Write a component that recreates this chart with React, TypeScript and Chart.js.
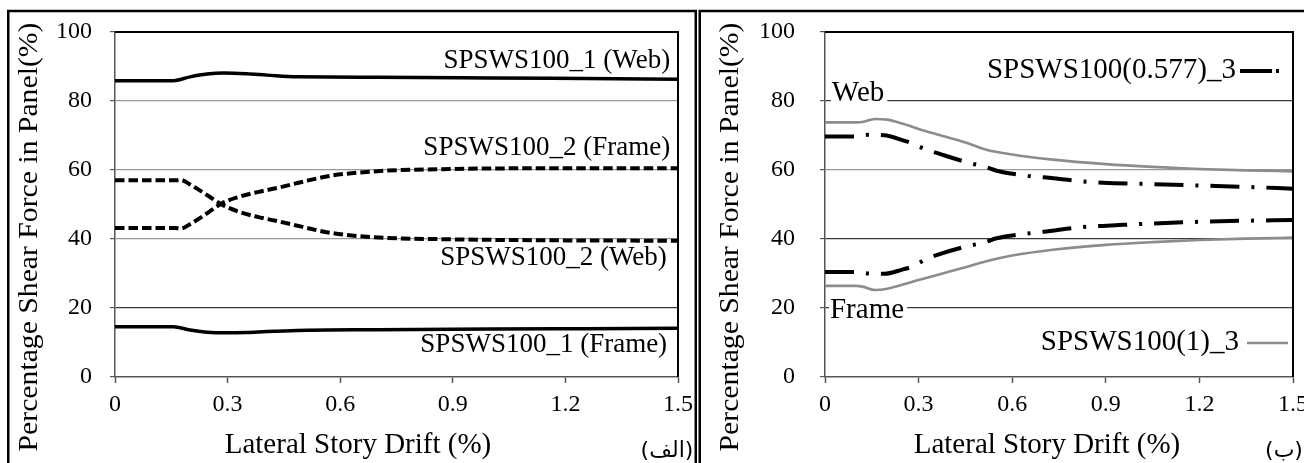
import React, { useEffect, useRef } from 'react';
import { Chart, registerables } from 'chart.js';

Chart.register(...registerables);

const SERIF = '"Liberation Serif", "Times New Roman", serif';
const ARABIC = '"DejaVu Sans", "Noto Sans", sans-serif';

// ---------- axes ----------
const xTickValues = [0, 0.3, 0.6, 0.9, 1.2, 1.5];
const xTickLabels = ['0', '0.3', '0.6', '0.9', '1.2', '1.5'];
const yTickValues = [0, 20, 40, 60, 80, 100];
const yTickLabels = ['0', '20', '40', '60', '80', '100'];

// ---------- panel (a) ----------
const driftA1 = [0, 0.155, 0.2, 0.245, 0.29, 0.35, 0.405, 0.485, 0.7, 1.0, 1.25, 1.5];
const webA1 = [85.9, 85.9, 87.0, 87.8, 88.1, 87.9, 87.5, 87.0, 86.9, 86.7, 86.5, 86.3];
const frameA1 = [14.6, 14.6, 13.6, 13.0, 12.8, 12.9, 13.2, 13.5, 13.7, 13.9, 14.0, 14.1];

const driftA2 = [0, 0.16, 0.175, 0.2, 0.25, 0.284, 0.33, 0.38, 0.44, 0.5, 0.573, 0.69, 0.9, 1.2, 1.5];
const frameA2 = [43.2, 43.2, 43.0, 44.3, 47.8, 50.3, 52.2, 53.6, 55.0, 56.6, 58.3, 59.6, 60.3, 60.5, 60.5];
const webA2 = [57.0, 57.0, 57.1, 55.8, 52.4, 50.0, 47.9, 46.4, 45.0, 43.5, 41.8, 40.5, 39.9, 39.6, 39.5];

// ---------- panel (b) ----------
const driftB1 = [0, 0.1, 0.12, 0.16, 0.2, 0.25, 0.3, 0.36, 0.45, 0.52, 0.6, 0.73, 0.9, 1.05, 1.2, 1.35, 1.5];
const webB1 = [73.8, 73.8, 73.9, 74.8, 74.6, 73.4, 71.9, 70.3, 68.0, 65.8, 64.5, 63.0, 61.7, 60.9, 60.3, 59.9, 59.6];
const frameB1 = [26.4, 26.4, 26.2, 25.2, 25.6, 26.8, 28.1, 29.6, 31.8, 33.6, 35.2, 36.9, 38.3, 39.1, 39.7, 40.1, 40.4];

const driftB2 = [0, 0.1, 0.14, 0.19, 0.25, 0.28, 0.32, 0.37, 0.46, 0.51, 0.55, 0.65, 0.7, 0.84, 0.89, 1.05, 1.2, 1.35, 1.5];
const webB2 = [69.7, 69.7, 70.2, 70.1, 68.6, 67.7, 66.1, 64.6, 62.1, 61.0, 59.8, 58.3, 57.9, 56.6, 56.3, 55.9, 55.5, 55.1, 54.6];
const frameB2 = [30.4, 30.4, 30.0, 29.9, 31.2, 32.0, 34.0, 35.7, 38.0, 39.0, 40.2, 41.6, 42.1, 43.6, 43.8, 44.5, 45.0, 45.3, 45.5];

const pts = (xs: number[], ys: number[]) => xs.map((x, i) => ({ x, y: ys[i] }));

type TextItem = {
  text: string;
  x: number; // data x
  y: number; // data y
  align: CanvasTextAlign;
  size: number;
  bg?: boolean;
};

type PanelSpec = {
  width: number;
  plotLeft: number;
  padRight: number;
  yTickPad: number;
  darkGrid: number[];
  datasets: any[];
  texts: TextItem[];
  yTitleX: number;
  xTitleX: number;
  frameX: number;
  frameW: number;
  tag: string;
  tagX: number;
  legends: { x1: number; x2: number; y: number; color: string; width: number; dash: number[] }[];
};

function makeChart(canvas: HTMLCanvasElement, spec: PanelSpec) {
  const decor = {
    id: 'decor',
    beforeDraw(chart: any) {
      const ctx = chart.ctx;
      ctx.save();
      ctx.fillStyle = '#ffffff';
      ctx.fillRect(0, 0, chart.width, chart.height);
      ctx.restore();
    },
    afterDraw(chart: any) {
      const ctx: CanvasRenderingContext2D = chart.ctx;
      const { left, right, top, bottom } = chart.chartArea;
      const sx = chart.scales.x;
      const sy = chart.scales.y;
      ctx.save();
      // top & right plot border
      ctx.strokeStyle = '#000';
      ctx.lineWidth = 2;
      ctx.beginPath();
      ctx.moveTo(left, top);
      ctx.lineTo(right, top);
      ctx.lineTo(right, bottom);
      ctx.stroke();

      // annotations
      for (const t of spec.texts) {
        const px = sx.getPixelForValue(t.x);
        const py = sy.getPixelForValue(t.y);
        ctx.font = `${t.size}px ${SERIF}`;
        ctx.textAlign = t.align;
        ctx.textBaseline = 'middle';
        if (t.bg) {
          const w = ctx.measureText(t.text).width;
          const x0 = t.align === 'left' ? px - 1 : px - w - 1;
          ctx.fillStyle = '#ffffff';
          ctx.fillRect(x0, py - t.size * 0.45, w + 4, t.size * 0.9);
        }
        ctx.fillStyle = '#000';
        ctx.fillText(t.text, px, py);
      }

      // legend samples
      for (const l of spec.legends) {
        ctx.strokeStyle = l.color;
        ctx.lineWidth = l.width;
        ctx.setLineDash(l.dash);
        ctx.beginPath();
        ctx.moveTo(l.x1, l.y);
        ctx.lineTo(l.x2, l.y);
        ctx.stroke();
      }
      ctx.setLineDash([]);

      // axis titles
      ctx.fillStyle = '#000';
      ctx.font = `27px ${SERIF}`;
      ctx.textAlign = 'center';
      ctx.textBaseline = 'middle';
      ctx.save();
      ctx.translate(spec.yTitleX, 237);
      ctx.rotate(-Math.PI / 2);
      ctx.scale(1.1, 1);
      ctx.fillText('Percentage Shear Force in Panel(%)', 0, 0);
      ctx.restore();
      ctx.font = `29px ${SERIF}`;
      ctx.fillText('Lateral Story Drift (%)', spec.xTitleX, 445);

      // panel tag
      ctx.font = `22px ${ARABIC}`;
      ctx.fillText(spec.tag, spec.tagX, 451);

      // panel frame
      ctx.strokeStyle = '#000';
      ctx.lineWidth = 2.5;
      ctx.strokeRect(spec.frameX, 11, spec.frameW, 480);
      ctx.restore();
    },
  };

  return new Chart(canvas, {
    type: 'line',
    data: { datasets: spec.datasets },
    options: {
      animation: false,
      responsive: false,
      maintainAspectRatio: false,
      layout: { padding: { left: 0, right: spec.padRight, top: 32, bottom: 0 } },
      plugins: { legend: { display: false }, tooltip: { enabled: false } },
      elements: { point: { radius: 0 }, line: { cubicInterpolationMode: 'monotone' } },
      scales: {
        x: {
          type: 'linear',
          min: 0,
          max: 1.5,
          afterBuildTicks: (s: any) => {
            s.ticks = xTickValues.map((v) => ({ value: v }));
          },
          afterFit: (s: any) => {
            s.height = 86;
            s.paddingLeft = 0;
            s.paddingRight = 0;
          },
          ticks: {
            autoSkip: false,
            maxRotation: 0,
            padding: 7,
            color: '#000',
            font: { family: SERIF, size: 24 },
            callback: (_v: any, i: number) => xTickLabels[i],
          },
          grid: { drawOnChartArea: false, tickLength: 6, tickColor: '#555', tickWidth: 1.5 },
          border: { color: '#555', width: 1.5 },
        },
        y: {
          type: 'linear',
          min: 0,
          max: 100,
          afterBuildTicks: (s: any) => {
            s.ticks = yTickValues.map((v) => ({ value: v }));
          },
          afterFit: (s: any) => {
            s.width = spec.plotLeft;
            s.paddingTop = 0;
            s.paddingBottom = 0;
          },
          ticks: {
            padding: spec.yTickPad,
            color: '#000',
            font: { family: SERIF, size: 24 },
            callback: (_v: any, i: number) => yTickLabels[i],
          },
          grid: {
            color: (c: any) => {
              const v = c.tick ? c.tick.value : 0;
              if (v === 0 || v === 100) return 'rgba(0,0,0,0)';
              return spec.darkGrid.includes(v) ? '#3a3a3a' : '#9a9a9a';
            },
            lineWidth: 1.2,
            tickLength: 5,
            tickColor: '#555',
          },
          border: { color: '#555', width: 1.5 },
        },
      },
    },
    plugins: [decor],
  } as any);
}

const specA: PanelSpec = {
  width: 698,
  plotLeft: 115,
  padRight: 20,
  yTickPad: 18,
  darkGrid: [20],
  datasets: [
    { data: pts(driftA1, webA1), borderColor: '#000', borderWidth: 3.5, fill: false },
    { data: pts(driftA1, frameA1), borderColor: '#000', borderWidth: 3.5, fill: false },
    { data: pts(driftA2, frameA2), borderColor: '#000', borderWidth: 4, borderDash: [9.5, 4], fill: false },
    { data: pts(driftA2, webA2), borderColor: '#000', borderWidth: 4, borderDash: [9.5, 4], fill: false },
  ],
  texts: [
    { text: 'SPSWS100_1 (Web)', x: 1.479, y: 91.6, align: 'right', size: 27 },
    { text: 'SPSWS100_2 (Frame)', x: 1.479, y: 66.4, align: 'right', size: 27 },
    { text: 'SPSWS100_2 (Web)', x: 1.47, y: 34.4, align: 'right', size: 27 },
    { text: 'SPSWS100_1 (Frame)', x: 1.471, y: 9.2, align: 'right', size: 27 },
  ],
  yTitleX: 30,
  xTitleX: 358,
  frameX: 8.25,
  frameW: 687.5,
  tag: '(الف)',
  tagX: 667,
  legends: [],
};

const specB: PanelSpec = {
  width: 606,
  plotLeft: 127,
  padRight: 11,
  yTickPad: 25,
  darkGrid: [20, 40, 80],
  datasets: [
    { data: pts(driftB1, webB1), borderColor: '#8c8c8c', borderWidth: 2.6, fill: false },
    { data: pts(driftB1, frameB1), borderColor: '#8c8c8c', borderWidth: 2.6, fill: false },
    { data: pts(driftB2, webB2), borderColor: '#000', borderWidth: 4, borderDash: [29, 12, 3, 12], fill: false },
    { data: pts(driftB2, frameB2), borderColor: '#000', borderWidth: 4, borderDash: [29, 12, 3, 12], fill: false },
  ],
  texts: [
    { text: 'SPSWS100(0.577)_3', x: 1.317, y: 89.0, align: 'right', size: 29 },
    { text: 'Web', x: 0.022, y: 82.2, align: 'left', size: 29, bg: true },
    { text: 'Frame', x: 0.016, y: 19.3, align: 'left', size: 29, bg: true },
    { text: 'SPSWS100(1)_3', x: 1.327, y: 9.9, align: 'right', size: 29 },
  ],
  yTitleX: 33,
  xTitleX: 349,
  frameX: 1.75,
  frameW: 700,
  tag: '(ب)',
  tagX: 586,
  legends: [
    { x1: 542, x2: 581, y: 71, color: '#000', width: 4, dash: [32, 4, 3, 20] },
    { x1: 549, x2: 590, y: 343, color: '#8c8c8c', width: 2.6, dash: [] },
  ],
};

function Panel({ spec, left }: { spec: PanelSpec; left: number }) {
  const ref = useRef<HTMLCanvasElement | null>(null);
  useEffect(() => {
    if (!ref.current) return;
    const chart = makeChart(ref.current, spec);
    return () => chart.destroy();
  }, [spec]);
  return (
    <canvas
      ref={ref}
      width={spec.width}
      height={463}
      style={{ position: 'absolute', left, top: 0, width: spec.width, height: 463 }}
    />
  );
}

export default function App() {
  return (
    <div style={{ position: 'fixed', left: 0, top: 0, width: 1304, height: 463, background: '#fff', overflow: 'hidden' }}>
      <Panel spec={specA} left={0} />
      <Panel spec={specB} left={698} />
    </div>
  );
}
